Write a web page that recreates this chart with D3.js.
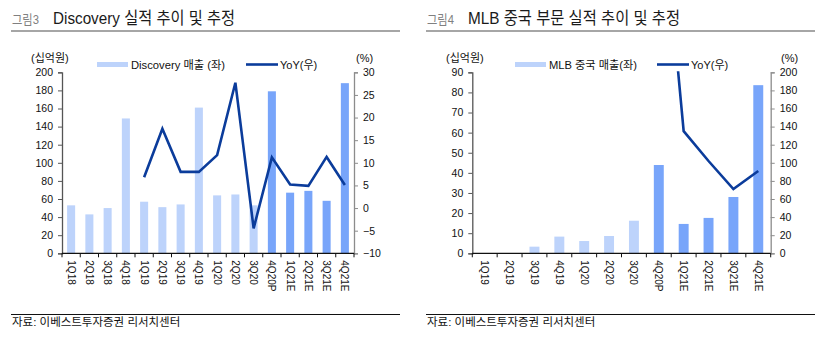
<!DOCTYPE html>
<html><head><meta charset="utf-8">
<script src="https://cdn.jsdelivr.net/npm/d3@7"></script>
<style>
html,body{margin:0;padding:0;background:#fff;}
svg{display:block;}
text{font-family:'Liberation Sans',Arial,'Noto Sans CJK KR',sans-serif;fill:#111;}
</style></head><body>
<svg id="c" width="833" height="352"></svg>
<script>
// ---- Data: Figure 3 (Discovery) ----
const discCats = ["1Q18","2Q18","3Q18","4Q18","1Q19","2Q19","3Q19","4Q19","1Q20","2Q20","3Q20","4Q20P","1Q21E","2Q21E","3Q21E","4Q21E"];
const discSales = [53,43,50,149,57,51,54,161,64,65,53,179,67,69,58,188];
const discYoY = [null,null,null,null,6.8,17.5,8.0,8.0,11.7,27.7,-4.5,11.2,5.2,4.9,11.3,5.1];
const discLeftTicks = [0,20,40,60,80,100,120,140,160,180,200];
const discRightTicks = [-10,-5,0,5,10,15,20,25,30];

// ---- Data: Figure 4 (MLB China) ----
const mlbCats = ["1Q19","2Q19","3Q19","4Q19","1Q20","2Q20","3Q20","4Q20P","1Q21E","2Q21E","3Q21E","4Q21E"];
const mlbSales = [0,0,3.3,8.3,6.1,8.6,16.2,43.9,14.6,17.6,28.0,83.6];
const mlbYoY = [null,null,null,null,null,null,null,430,135,102,71,91];
const mlbLeftTicks = [0,10,20,30,40,50,60,70,80,90];
const mlbRightTicks = [0,20,40,60,80,100,120,140,160,180,200];

const svg = d3.select("#c");
const LIGHT = "#bdd3fb", DARK = "#78a5fa", LINE = "#0b3c9b";
const FONT = "'Liberation Sans',Arial,'Noto Sans CJK KR',sans-serif";
const fmt = v => v < 0 ? "\u2212" + Math.abs(v) : String(v);

function panel(o){
  const g = svg.append("g");
  // header
  g.append("text").attr("x", o.px + 1).attr("y", 24).attr("font-size", 13).style("fill","#808080")
    .attr("textLength", o.figW).attr("lengthAdjust","spacingAndGlyphs").text(o.fig);
  g.append("text").attr("x", o.titleX).attr("y", 24).attr("font-size", 17).style("fill","#1a1a1a")
    .attr("textLength", o.titleW).attr("lengthAdjust","spacingAndGlyphs").text(o.title);
  g.append("line").attr("x1", o.px).attr("x2", o.px + 389).attr("y1", 31).attr("y2", 31)
    .attr("stroke", "#a6a6a6").attr("stroke-width", 2);
  // footer
  g.append("line").attr("x1", o.px).attr("x2", o.px + 389).attr("y1", 314.5).attr("y2", 314.5)
    .attr("stroke", "#111").attr("stroke-width", 1);
  g.append("text").attr("x", o.px + 1).attr("y", 326).attr("font-size", 11.5)
    .text("자료: 이베스트투자증권 리서치센터");

  const yTop = 72.3, yBot = 253.3;
  const x = d3.scaleBand().domain(o.cats).range([o.x0, o.x1]).padding(0);
  const yL = d3.scaleLinear().domain([o.lTicks[0], o.lTicks[o.lTicks.length-1]]).range([yBot, yTop]);
  const yR = d3.scaleLinear().domain([o.rTicks[0], o.rTicks[o.rTicks.length-1]]).range([yBot, yTop]);
  const bw = x.bandwidth() * o.barFrac;

  // bars
  g.append("g").selectAll("rect").data(o.sales).join("rect")
    .attr("x", (d,i) => x(o.cats[i]) + (x.bandwidth() - bw)/2)
    .attr("y", d => yL(d)).attr("width", bw).attr("height", d => yBot - yL(d))
    .attr("fill", (d,i) => /[PE]$/.test(o.cats[i]) ? DARK : LIGHT);

  // line (clipped)
  const cid = "clip" + o.id;
  svg.append("clipPath").attr("id", cid).append("rect")
    .attr("x", o.x0).attr("y", yTop - 1).attr("width", o.x1 - o.x0).attr("height", yBot - yTop + 2);
  const line = d3.line().defined(d => d.v !== null)
    .x(d => x(d.c) + x.bandwidth()/2).y(d => yR(d.v));
  g.append("path").datum(o.cats.map((c,i) => ({c, v: o.yoy[i]})))
    .attr("d", line).attr("fill","none").attr("stroke", LINE).attr("stroke-width", 2.6)
    .attr("stroke-linejoin","miter").attr("clip-path", `url(#${cid})`);

  // left axis
  const la = g.append("g").attr("transform", `translate(${o.x0},0)`)
    .call(d3.axisLeft(yL).tickValues(o.lTicks).tickSize(4).tickPadding(5).tickFormat(fmt));
  la.select(".domain").attr("stroke","#555").attr("stroke-width",1.3);
  la.selectAll(".tick line").attr("stroke","#555");
  la.selectAll("text").attr("font-size", 10.5).style("font-family", FONT).style("fill","#111");
  // right axis
  const ra = g.append("g").attr("transform", `translate(${o.x1},0)`)
    .call(d3.axisRight(yR).tickValues(o.rTicks).tickSize(4).tickPadding(5).tickFormat(fmt));
  ra.select(".domain").attr("stroke","#8c8c8c").attr("stroke-width",1.3);
  ra.selectAll(".tick line").attr("stroke","#8c8c8c");
  ra.selectAll("text").attr("font-size", 10.5).style("font-family", FONT).style("fill","#111");

  // x axis
  g.append("line").attr("x1", o.x0).attr("x2", o.x1).attr("y1", yBot).attr("y2", yBot)
    .attr("stroke","#111").attr("stroke-width",1.2);
  const bounds = o.cats.map(c => x(c)).concat([o.x1]);
  g.append("g").selectAll("line").data(bounds).join("line")
    .attr("x1", d => d).attr("x2", d => d).attr("y1", yBot).attr("y2", yBot + 4)
    .attr("stroke","#111");
  g.append("g").selectAll("text").data(o.cats).join("text")
    .attr("transform", d => `translate(${x(d) + x.bandwidth()/2},${yBot + 7}) rotate(90)`)
    .attr("dy","0.35em").attr("font-size", 10).attr("text-anchor","start").text(d => d);

  // units
  g.append("text").attr("x", o.unitLX).attr("y", 62).attr("font-size", 11).text("(십억원)");
  g.append("text").attr("x", o.unitRX).attr("y", 62).attr("font-size", 11).text("(%)");

  // legend
  g.append("rect").attr("x", o.legRectX).attr("y", 62).attr("width", 31).attr("height", 5).attr("fill", LIGHT);
  g.append("text").attr("x", o.legRectX + 34).attr("y", 68.5).attr("font-size", 11)
    .attr("textLength", o.legTextW).attr("lengthAdjust","spacingAndGlyphs").text(o.legText);
  g.append("line").attr("x1", o.legLineX).attr("x2", o.legLineX + 32).attr("y1", 64.5).attr("y2", 64.5)
    .attr("stroke", LINE).attr("stroke-width", 2.6);
  g.append("text").attr("x", o.legLineX + 34).attr("y", 68.5).attr("font-size", 11).text("YoY(우)");
}

panel({id:"a", px:11, fig:"그림3", figW:27, titleX:53, titleW:182, title:"Discovery 실적 추이 및 추정",
  cats:discCats, sales:discSales, yoy:discYoY, lTicks:discLeftTicks, rTicks:discRightTicks,
  x0:62, x1:354, barFrac:0.44, unitLX:31, unitRX:356,
  legRectX:97, legText:"Discovery 매출 (좌)", legTextW:94, legLineX:246});

panel({id:"b", px:426, fig:"그림4", figW:27, titleX:468, titleW:212, title:"MLB 중국 부문 실적 추이 및 추정",
  cats:mlbCats, sales:mlbSales, yoy:mlbYoY, lTicks:mlbLeftTicks, rTicks:mlbRightTicks,
  x0:472.3, x1:770.7, barFrac:0.4, unitLX:446, unitRX:781,
  legRectX:515, legText:"MLB 중국 매출(좌)", legTextW:88, legLineX:657});
</script>
</body></html>
